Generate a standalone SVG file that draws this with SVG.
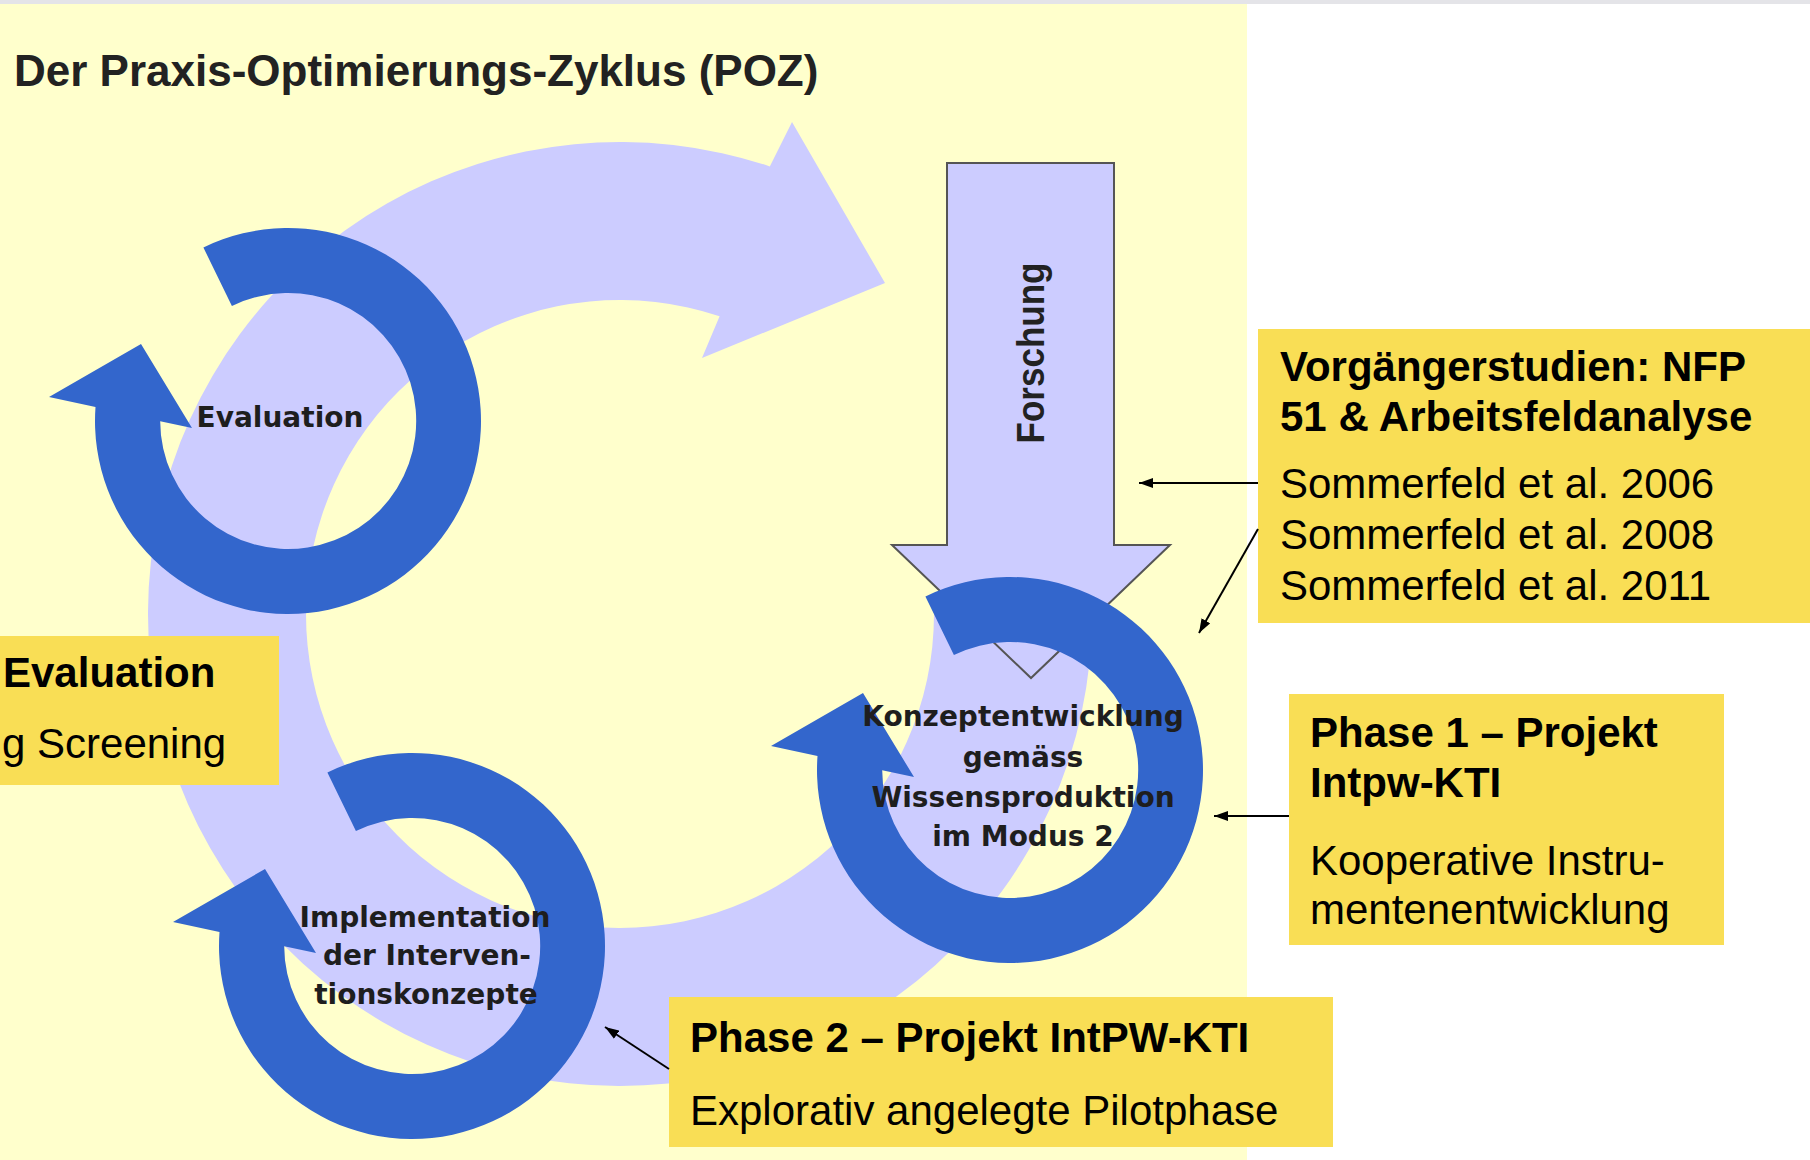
<svg xmlns="http://www.w3.org/2000/svg" width="1810" height="1160" viewBox="0 0 1810 1160">
<style>
.band{fill:#CCCCFF}
.ring{fill:#3366CC}
.box{fill:#F9DE55}
.lbl{font-family:"DejaVu Sans","Liberation Sans",sans-serif;font-weight:bold;font-size:28px;fill:#1E1E1E;text-anchor:middle}
.hb{font-family:"Liberation Sans",Arial,sans-serif;font-weight:bold;font-size:42px;fill:#000}
.hr{font-family:"Liberation Sans",Arial,sans-serif;font-size:42px;fill:#000}
.conn{stroke:#000;stroke-width:2;fill:none;marker-end:url(#ah)}
</style>
<defs>
<marker id="ah" viewBox="0 0 14 10" refX="14" refY="5" markerWidth="14" markerHeight="10" markerUnits="userSpaceOnUse" orient="auto">
<path d="M0,0 L14,5 L0,10 Z" fill="#000"/>
</marker>
<path id="ringShape" d="M -84.6 -173.5 A 193 193 0 1 1 -192.5 -13.9 L -239 -24 L -147 -77 L -96 7 L -127.8 0.2 A 128 128 0 1 0 -56.1 -115.0 Z"/>
</defs>
<rect x="0" y="0" width="1810" height="1160" fill="#FFFFFF"/>
<rect x="0" y="0" width="1810" height="4" fill="#E4E4E8"/>
<rect x="0" y="4" width="1247" height="1156" fill="#FFFFCC"/>
<text x="14" y="86" font-family="Liberation Sans, Arial, sans-serif" font-weight="bold" font-size="44" fill="#222">Der Praxis-Optimierungs-Zyklus (POZ)</text>

<g id="cycle-arrow">
<path class="band" d="M 934 614 L 1092 614 A 472 472 0 1 1 769.8 166.4 L 792 122 L 885 283 L 702 358 L 719.6 316.2 A 314 314 0 1 0 934 614 Z"/>
</g>

<g id="forschung">
<path d="M 947 163 L 1114 163 L 1114 545 L 1170 545 L 1031 678 L 892 545 L 947 545 Z" fill="#CCCCFF" stroke="#555" stroke-width="2"/>
<text transform="translate(1044,353) rotate(-90)" x="0" y="0" font-family="Liberation Sans, Arial, sans-serif" font-weight="bold" font-size="38" fill="#222" text-anchor="middle" textLength="181" lengthAdjust="spacingAndGlyphs">Forschung</text>
</g>

<g id="evaluation-ring">
<use href="#ringShape" class="ring" transform="translate(288,421)"/>
<text class="lbl" x="280" y="427">Evaluation</text>
</g>

<g id="implementation-ring">
<use href="#ringShape" class="ring" transform="translate(412,946)"/>
<text class="lbl" x="425" y="927">Implementation</text>
<text class="lbl" x="427" y="965">der Interven-</text>
<text class="lbl" x="426" y="1004">tionskonzepte</text>
</g>

<g id="konzept-ring">
<use href="#ringShape" class="ring" transform="translate(1010,770)"/>
<text class="lbl" x="1023" y="726">Konzeptentwicklung</text>
<text class="lbl" x="1023" y="767">gemäss</text>
<text class="lbl" x="1023" y="807">Wissensproduktion</text>
<text class="lbl" x="1023" y="846">im Modus 2</text>
</g>

<g id="box-vorgaenger">
<rect class="box" x="1258" y="329" width="552" height="294"/>
<text class="hb" x="1280" y="381">Vorgängerstudien: NFP</text>
<text class="hb" x="1280" y="431">51 &amp; Arbeitsfeldanalyse</text>
<text class="hr" x="1280" y="498">Sommerfeld et al. 2006</text>
<text class="hr" x="1280" y="549">Sommerfeld et al. 2008</text>
<text class="hr" x="1280" y="600">Sommerfeld et al. 2011</text>
</g>

<g id="box-phase1">
<rect class="box" x="1289" y="694" width="435" height="251"/>
<text class="hb" x="1310" y="747">Phase 1 – Projekt</text>
<text class="hb" x="1310" y="797">Intpw-KTI</text>
<text class="hr" x="1310" y="875">Kooperative Instru-</text>
<text class="hr" x="1310" y="924">mentenentwicklung</text>
</g>

<g id="box-phase2">
<rect class="box" x="669" y="997" width="664" height="150"/>
<text class="hb" x="690" y="1052">Phase 2 – Projekt IntPW-KTI</text>
<text class="hr" x="690" y="1125">Explorativ angelegte Pilotphase</text>
</g>

<g id="box-evaluation">
<rect class="box" x="0" y="636" width="279" height="149"/>
<text class="hb" x="3" y="687">Evaluation</text>
<text class="hr" x="2" y="758">g Screening</text>
</g>

<g id="connectors">
<line class="conn" x1="1258" y1="483" x2="1139" y2="483"/>
<line class="conn" x1="1258" y1="529" x2="1199" y2="633"/>
<line class="conn" x1="1289" y1="816" x2="1214" y2="816"/>
<line class="conn" x1="669" y1="1069" x2="605" y2="1027"/>
</g>
</svg>
